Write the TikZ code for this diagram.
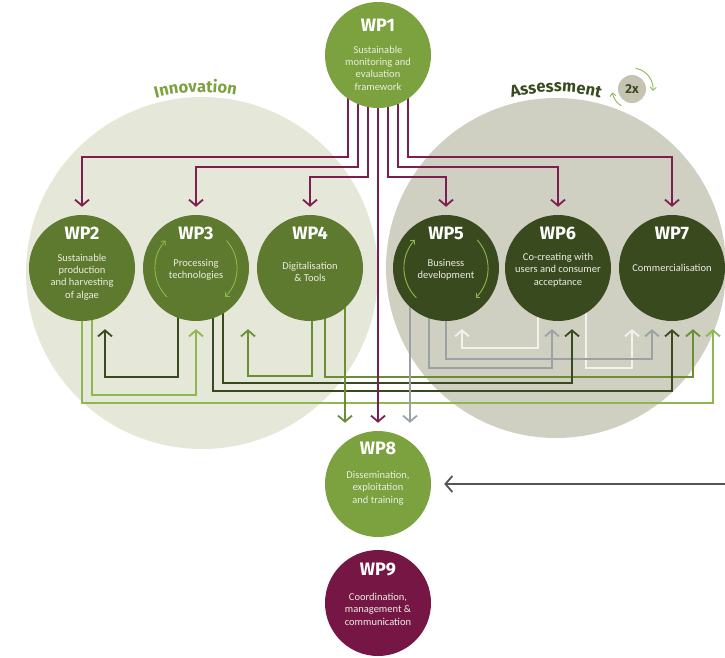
\documentclass[tikz,border=0pt]{standalone}
\usepackage{fontspec}
\setmainfont{Carlito}
\newfontfamily\headfont{Fira Sans}
\usetikzlibrary{arrows.meta,decorations.text}
\definecolor{wpl}{HTML}{7BA23F}
\definecolor{wpm}{HTML}{5E7A2F}
\definecolor{wpd}{HTML}{3A4A1F}
\definecolor{wpr}{HTML}{761645}
\definecolor{innobg}{HTML}{E5E8D9}
\definecolor{assbg}{HTML}{CFCFC2}
\definecolor{badge}{HTML}{C5C4B3}
\definecolor{lnmar}{HTML}{7C1F50}
\definecolor{lnlg}{HTML}{8DB84F}
\definecolor{lnmg}{HTML}{6B8E35}
\definecolor{lndg}{HTML}{3A4A1F}
\definecolor{lngy}{HTML}{9CA1A6}
\definecolor{lnwh}{HTML}{F3F3EC}
\definecolor{lnarr}{HTML}{555555}
\definecolor{bodytxt}{HTML}{ECEDE2}
\pgfdeclarelayer{back}
\pgfdeclarelayer{links}
\pgfsetlayers{back,links,main}
\begin{document}
\begin{tikzpicture}[x=1pt, y=1pt,
    wp/.style = {circle, minimum size=106pt, inner sep=0pt},
    title/.style = {text=white, font=\headfont\bfseries\fontsize{18}{20}\selectfont},
    body/.style = {text=bodytxt, align=center, inner sep=0pt, font=\fontsize{10.5}{12.4}\selectfont},
    conn/.style = {line width=1.8pt, -{Straight Barb[length=6pt,width=14pt]}},
    mline/.style = {conn, lnmar},
    lgline/.style = {conn, lnlg},
    mgline/.style = {conn, lnmg},
    dgline/.style = {conn, lndg},
    gyline/.style = {conn, lngy},
    wline/.style = {conn, lnwh},
    cyc/.style = {lnlg, line width=0.9pt, -{Straight Barb[length=3pt,width=6pt]}}]
\useasboundingbox (0,0) rectangle (725,-657);

\coordinate (inno) at (202,-273);
\coordinate (assess) at (556,-268);
\begin{pgfonlayer}{back}
\fill[innobg] (inno) circle (176pt);
\fill[assbg] (assess) circle (170pt);
\end{pgfonlayer}

\path[decorate, decoration={text along path, text align=center, text color=wpl,
    text={|\headfont\bfseries\fontsize{16.5}{17}\selectfont|Innovation}}]
    (inno) ++(122:181pt) arc (122:62:181pt);
\path[decorate, decoration={text along path, text align=center, text color=wpd,
    text={|\headfont\bfseries\fontsize{16.5}{17}\selectfont|Assessment}}]
    (assess) ++(120:176pt) arc (120:60:176pt);

\node[circle, fill=badge, minimum size=28pt, inner sep=0pt, text=wpd,
    font=\headfont\bfseries\fontsize{13}{13}\selectfont] (twice) at (632,-89) {2x};
\draw[cyc] (twice.center) ++(80:21pt) arc (80:-5:21pt);
\draw[cyc] (twice.center) ++(238:20pt) arc (238:190:20pt);

\node[wp, fill=wpl] (wp1) at (378,-55) {};
\node[wp, fill=wpm] (wp2) at (82,-268) {};
\node[wp, fill=wpm] (wp3) at (196,-268) {};
\node[wp, fill=wpm] (wp4) at (310,-268) {};
\node[wp, fill=wpd] (wp5) at (446,-268) {};
\node[wp, fill=wpd] (wp6) at (558,-268) {};
\node[wp, fill=wpd] (wp7) at (672,-268) {};
\node[wp, fill=wpl] (wp8) at (378,-484) {};
\node[wp, fill=wpr] (wp9) at (378,-603) {};

\node[title] (wp1t) at ([yshift=30pt]wp1.center) {WP1};
\node[body] (wp1b) at ([yshift=-13pt]wp1.center) {Sustainable\\monitoring and\\evaluation\\framework};
\node[title] (wp2t) at ([yshift=35pt]wp2.center) {WP2};
\node[body] (wp2b) at ([yshift=-9pt]wp2.center) {Sustainable\\production\\and harvesting\\of algae};
\node[title] (wp3t) at ([yshift=35pt]wp3.center) {WP3};
\node[body] (wp3b) at ([yshift=-2pt]wp3.center) {Processing\\technologies};
\node[title] (wp4t) at ([yshift=35pt]wp4.center) {WP4};
\node[body] (wp4b) at ([yshift=-4pt]wp4.center) {Digitalisation\\\& Tools};
\node[title] (wp5t) at ([yshift=35pt]wp5.center) {WP5};
\node[body] (wp5b) at ([yshift=-2pt]wp5.center) {Business\\development};
\node[title] (wp6t) at ([yshift=35pt]wp6.center) {WP6};
\node[body] (wp6b) at ([yshift=-2pt]wp6.center) {Co-creating with\\users and consumer\\acceptance};
\node[title] (wp7t) at ([yshift=35pt]wp7.center) {WP7};
\node[body] (wp7b) at (wp7.center) {Commercialisation};
\node[title] (wp8t) at ([yshift=36pt]wp8.center) {WP8};
\node[body] (wp8b) at ([yshift=-4pt]wp8.center) {Dissemination,\\exploitation\\and training};
\node[title] (wp9t) at ([yshift=33pt]wp9.center) {WP9};
\node[body] (wp9b) at ([yshift=-6pt]wp9.center) {Coordination,\\management \&\\communication};

\draw[cyc] (wp3.center) ++(225:41pt) arc (225:138:41pt);
\draw[cyc] (wp3.center) ++(42:41pt) arc (42:-45:41pt);
\draw[cyc] (wp5.center) ++(225:42pt) arc (225:138:42pt);
\draw[cyc] (wp5.center) ++(42:42pt) arc (42:-45:42pt);

\begin{pgfonlayer}{links}
\draw[mline] ([xshift=-30pt]wp1.center) -- ++(0,-102) -| ([yshift=8pt]wp2.north);
\draw[mline] ([xshift=-20pt]wp1.center) -- ++(0,-112) -| ([yshift=8pt]wp3.north);
\draw[mline] ([xshift=-10pt]wp1.center) -- ++(0,-122) -| ([yshift=8pt]wp4.north);
\draw[mline] ([xshift=10pt]wp1.center) -- ++(0,-122) -| ([yshift=8pt]wp5.north);
\draw[mline] ([xshift=20pt]wp1.center) -- ++(0,-112) -| ([yshift=8pt]wp6.north);
\draw[mline] ([xshift=30pt]wp1.center) -- ++(0,-102) -| ([yshift=8pt]wp7.north);

\draw[wline] ([xshift=-20pt]wp6.center) -- ++(0,-80) -| ([xshift=16pt,yshift=-8pt]wp5.south);
\draw[wline] ([xshift=28pt]wp6.center) -- ++(0,-100) -| ([xshift=-40pt,yshift=-8pt]wp7.south);
\draw[gyline] (wp5.center) -- ++(0,-91) -| ([xshift=-20pt,yshift=-8pt]wp7.south);
\draw[gyline] ([xshift=-17pt]wp5.center) -- ++(0,-100) -| ([xshift=-6pt,yshift=-8pt]wp6.south);
\draw[mgline] ([xshift=2pt]wp4.center) -- ++(0,-108) -| ([xshift=52pt,yshift=-8pt]wp3.south);
\draw[mgline] ([xshift=15pt]wp4.center) -- ++(0,-109) -| ([xshift=21pt,yshift=-8pt]wp7.south);
\draw[dgline] ([xshift=-18pt]wp3.center) -- ++(0,-109) -| ([xshift=23pt,yshift=-8pt]wp2.south);
\draw[dgline] ([xshift=27pt]wp3.center) -- ++(0,-115) -| ([xshift=14pt,yshift=-8pt]wp6.south);
\draw[dgline] ([xshift=17pt]wp3.center) -- ++(0,-123) -| ([yshift=-8pt]wp7.south);
\draw[lgline] ([xshift=10pt]wp2.center) -- ++(0,-127) -| ([yshift=-8pt]wp3.south);
\draw[lgline] (wp2.center) -- ++(0,-135) -| ([xshift=41pt,yshift=-8pt]wp7.south);

\draw[mgline] ([xshift=35pt]wp4.center) -- ([xshift=-33pt,yshift=8pt]wp8.north);
\draw[mline] (wp1.center) -- ([yshift=8pt]wp8.north);
\draw[gyline] ([xshift=-36pt]wp5.center) -- ([xshift=32pt,yshift=8pt]wp8.north);
\end{pgfonlayer}

\coordinate (feed) at (725,-484);
\draw[lnarr, line width=1.8pt, -{Straight Barb[length=7pt,width=16pt]}] (feed) -- ([xshift=13pt]wp8.east);
\end{tikzpicture}
\end{document}
